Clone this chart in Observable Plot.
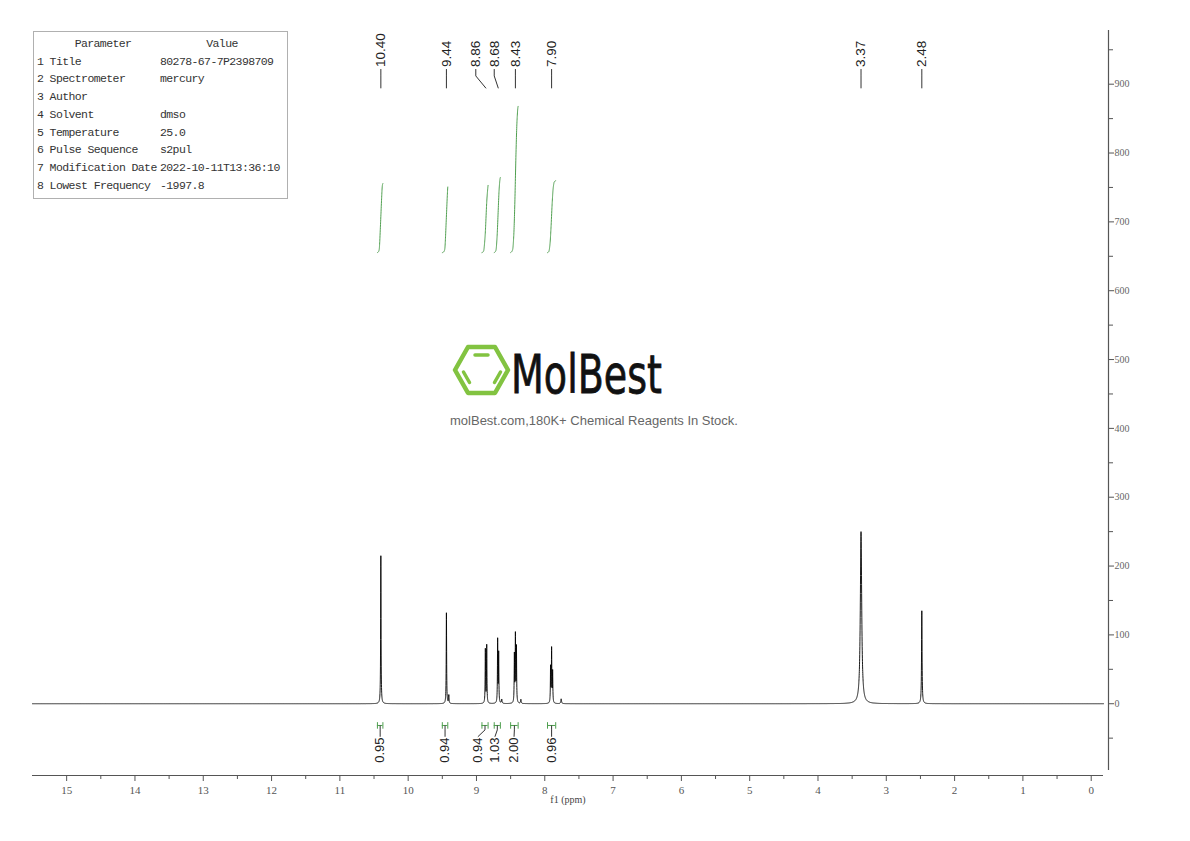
<!DOCTYPE html>
<html><head><meta charset="utf-8">
<script src="https://cdn.jsdelivr.net/npm/d3@7"></script>
<script src="https://cdn.jsdelivr.net/npm/@observablehq/plot@0.6"></script>
<style>
html,body{margin:0;padding:0;background:#fff;}
#wrap{position:relative;width:1190px;height:841px;overflow:hidden;background:#fff;}
#chart svg{display:block;}
#params{position:absolute;left:33px;top:31px;width:253px;height:166px;border:1px solid #b0b0b0;font-family:"Liberation Mono","DejaVu Sans Mono",monospace;font-size:11.5px;letter-spacing:-0.6px;color:#333;}
#params div{position:absolute;white-space:pre;line-height:14px;}
</style></head><body>
<div id="wrap"><div id="chart"></div></div>
<script>
// ---------- data ----------
const peakPpm    = [10.400, 9.440, 9.405, 8.870, 8.850, 8.690, 8.675, 8.630, 8.445, 8.430, 8.415, 8.350, 7.915, 7.900, 7.885, 7.760, 3.370, 2.480];
const peakHeight = [215,    132,   12,    78,    84,    92,    72,    6,     69,    97,    80,    6,     52,    78,    45,    7,     250,   135];
const peakWidth  = [0.0035, 0.0035,0.004, 0.0035,0.0035,0.0035,0.0035,0.005, 0.0035,0.0035,0.0035,0.005, 0.0035,0.0035,0.0035,0.006, 0.012, 0.0045];

const peakLabelText = ["10.40", "9.44", "8.86", "8.68", "8.43", "7.90", "3.37", "2.48"];
const peakLabelPos  = [10.40, 9.44, 9.01, 8.74, 8.43, 7.90, 3.37, 2.48];

const intFrom      = [10.45, 9.50, 8.92, 8.74, 8.50, 7.96];
const intTo        = [10.37, 9.42, 8.83, 8.65, 8.39, 7.84];
const intValue     = ["0.95", "0.94", "0.94", "1.03", "2.00", "0.96"];
const intLabelPos  = [10.41, 9.46, 8.98, 8.73, 8.45, 7.90];
const intCurveLow  = [655, 655, 655, 655, 655, 655];
const intCurveHigh = [757, 756, 756, 766, 870, 760];

const xMajorTicks = d3.range(0, 16, 1);
const xMinorTicks = d3.range(0.5, 15.5, 1);
const yMajorTicks = d3.range(0, 1000, 100);
const yMinorTicks = d3.range(-50, 1000, 100);

const paramNames  = ["1 Title", "2 Spectrometer", "3 Author", "4 Solvent", "5 Temperature", "6 Pulse Sequence", "7 Modification Date", "8 Lowest Frequency"];
const paramValues = ["80278-67-7P2398709", "mercury", "", "dmso", "25.0", "s2pul", "2022-10-11T13:36:10", "-1997.8"];

// ---------- derived ----------
const xDomain = [15.5, -0.18];
const yDomain = [-97, 978];

const spectrum = [];
{
  const start = Math.round(xDomain[0] * 1000), end = Math.round(xDomain[1] * 1000);
  for (let i = start; i >= end; i--) {
    const x = i / 1000;
    let y = 0;
    for (let k = 0; k < peakPpm.length; k++) {
      const d = (x - peakPpm[k]) / peakWidth[k];
      y += peakHeight[k] / (1 + d * d);
    }
    spectrum.push({x, y});
  }
}

const integralCurves = [];
intFrom.forEach((a, i) => {
  const b = intTo[i];
  const pts = spectrum.filter(d => d.x <= a + 1e-9 && d.x >= b - 1e-9);
  let c = 0;
  const cum = pts.map(d => (c += d.y));
  const k = 20, n = cum.length;
  pts.forEach((d, j) => {
    let s = 0;
    for (let t = j - k; t <= j + k; t++) s += cum[Math.max(0, Math.min(n - 1, t))];
    const f = s / (2 * k + 1) / c;
    integralCurves.push({id: i, x: d.x, y: intCurveLow[i] + f * (intCurveHigh[i] - intCurveLow[i])});
  });
});

// label levels (in intensity units)
const topTextY = 925, topLeadTop = 922, topLeadBend = 912, topLeadEnd = 894;
const bracketY = -31.6, bracketT1 = -27.5, bracketT2 = -37, botBend = -38, botLeadEnd = -48, botTextY = -49;

const topLabels = peakLabelText.map((t, i) => ({t, lx: peakLabelPos[i], px: +t}));
const topLeaders = topLabels.flatMap(d => [
  {x1: d.lx, y1: topLeadTop, x2: d.lx, y2: topLeadBend},
  {x1: d.lx, y1: topLeadBend, x2: d.px, y2: topLeadEnd}
]);

const ints = intValue.map((v, i) => ({v, a: intFrom[i], b: intTo[i], c: (intFrom[i] + intTo[i]) / 2, lx: intLabelPos[i]}));
const intEnds = ints.flatMap(d => [{x: d.a}, {x: d.b}]);
const botLeaders = ints.flatMap(d => [
  {x1: d.c, y1: bracketY, x2: d.c, y2: botBend},
  {x1: d.c, y1: botBend, x2: d.lx, y2: botLeadEnd}
]);

const serif = "'Liberation Serif','DejaVu Serif',serif";
const sans = "'Liberation Sans',Arial,sans-serif";
const green = "#4f9f4f";

const chart = Plot.plot({
  width: 1190, height: 841,
  marginLeft: 32, marginRight: 87, marginTop: 30, marginBottom: 66,
  x: {domain: xDomain, range: [32, 1103], label: null},
  y: {domain: yDomain, range: [770, 30], label: null},
  style: {background: "white", overflow: "visible"},
  marks: [
    Plot.ruleY([yDomain[0]], {dy: 5, stroke: "#555", strokeWidth: 1}),
    Plot.ruleX([xDomain[1]], {dx: 5, y1: yDomain[0], y2: yDomain[1], stroke: "#555", strokeWidth: 1.2}),
    Plot.axisX({ticks: xMinorTicks, tickSize: 4, tickFormat: () => "", stroke: "#555", label: null}),
    Plot.axisX({ticks: xMajorTicks, tickSize: 6, tickPadding: 5, tickFormat: d => String(d), stroke: "#555", fill: "#555",
                fontFamily: serif, fontSize: 11, label: null}),
    Plot.text(["f1 (ppm)"], {frameAnchor: "bottom", dy: 27, fontFamily: serif, fontSize: 10, fill: "#444"}),
    Plot.axisY({anchor: "right", ticks: yMinorTicks, tickSize: 4, dx: 5, tickFormat: () => "", stroke: "#555", label: null}),
    Plot.axisY({anchor: "right", ticks: yMajorTicks, tickSize: 5, dx: 5, tickPadding: 1, tickFormat: d => String(d),
                stroke: "#555", fill: "#666", fontFamily: serif, fontSize: 10, label: null}),
    Plot.line(spectrum, {x: "x", y: "y", stroke: "#000", strokeWidth: 0.9}),
    Plot.line(integralCurves, {x: "x", y: "y", z: "id", stroke: green, strokeWidth: 1}),
    Plot.ruleY(ints, {y: bracketY, x1: "a", x2: "b", stroke: green, strokeWidth: 1}),
    Plot.ruleX(intEnds, {x: "x", y1: bracketT1, y2: bracketT2, stroke: green, strokeWidth: 1}),
    Plot.link(botLeaders, {x1: "x1", y1: "y1", x2: "x2", y2: "y2", stroke: "#333", strokeWidth: 1}),
    Plot.text(ints, {x: "lx", y: botTextY, text: "v", rotate: -90, textAnchor: "end", fontFamily: sans, fontSize: 13, fill: "#222"}),
    Plot.link(topLeaders, {x1: "x1", y1: "y1", x2: "x2", y2: "y2", stroke: "#333", strokeWidth: 1}),
    Plot.text(topLabels, {x: "lx", y: topTextY, text: "t", rotate: -90, textAnchor: "start", fontFamily: sans, fontSize: 13.5, fill: "#222"})
  ]
});
document.getElementById("chart").appendChild(chart);

// ---------- parameter table ----------
const wrap = document.getElementById("wrap");
const tbl = document.createElement("div");
tbl.id = "params";
const rowCenters = [44, 61.7, 79.4, 97.1, 114.8, 132.5, 150.2, 167.9, 185.6];
function cell(txt, left, cy, center) {
  const d = document.createElement("div");
  d.textContent = txt;
  d.style.top = (cy - 31 - 8) + "px";
  d.style.left = left + "px";
  if (center) d.style.transform = "translateX(-50%)";
  tbl.appendChild(d);
}
cell("Parameter", 69, rowCenters[0], true);
cell("Value", 188, rowCenters[0], true);
paramNames.forEach((p, i) => {
  cell(p, 3, rowCenters[i + 1], false);
  cell(paramValues[i], 126, rowCenters[i + 1], false);
});
wrap.appendChild(tbl);

// ---------- watermark ----------
const ns = "http://www.w3.org/2000/svg";
const logo = document.createElementNS(ns, "svg");
logo.setAttribute("width", 1190); logo.setAttribute("height", 841);
logo.style.cssText = "position:absolute;left:0;top:0;pointer-events:none";
logo.innerHTML = `
  <polygon points="455,370 468,347 495,347 508,370 495,393 468,393" fill="none" stroke="#82c341" stroke-width="4.5" stroke-linejoin="round"/>
  <line x1="475" y1="355" x2="488" y2="355" stroke="#82c341" stroke-width="3.5" stroke-linecap="round"/>
  <line x1="463.5" y1="372" x2="469.5" y2="382.5" stroke="#82c341" stroke-width="3.5" stroke-linecap="round"/>
  <line x1="500.5" y1="372" x2="494.5" y2="382.5" stroke="#82c341" stroke-width="3.5" stroke-linecap="round"/>
  <text x="511" y="393" font-family="DejaVu Sans" font-size="53" fill="#111" stroke="#111" stroke-width="0.8" textLength="151" lengthAdjust="spacingAndGlyphs">MolBest</text>
  <text x="594" y="425" text-anchor="middle" font-family="Liberation Sans, Arial" font-size="13" fill="#666">molBest.com,180K+ Chemical Reagents In Stock.</text>`;
wrap.appendChild(logo);
</script>
</body></html>
